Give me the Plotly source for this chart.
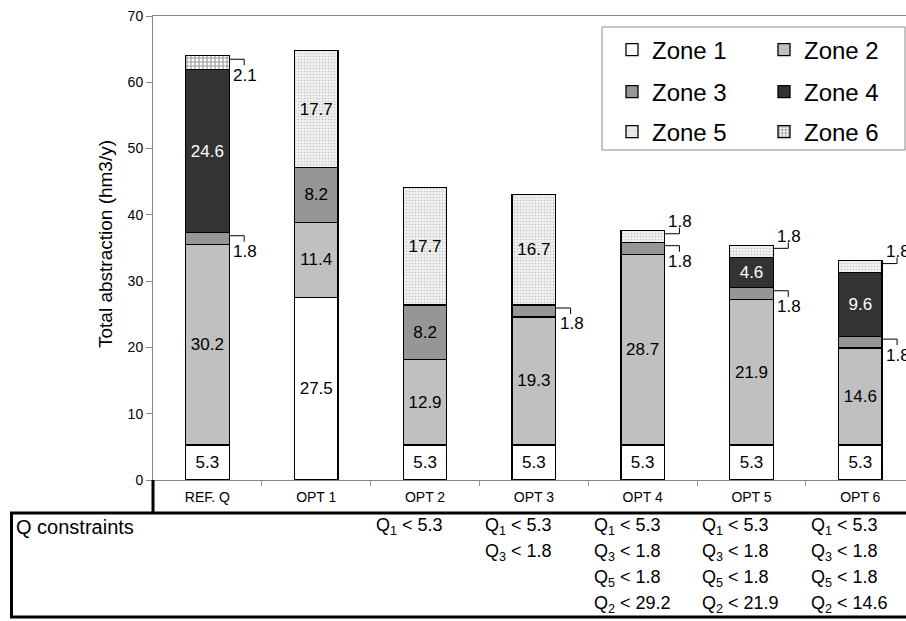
import plotly.graph_objects as go

# ---- data -----------------------------------------------------------------
categories = ["REF. Q", "OPT 1", "OPT 2", "OPT 3", "OPT 4", "OPT 5", "OPT 6"]
zone_names = ["Zone 1", "Zone 2", "Zone 3", "Zone 4", "Zone 5", "Zone 6"]
zone1 = [5.3, 27.5, 5.3, 5.3, 5.3, 5.3, 5.3]
zone2 = [30.2, 11.4, 12.9, 19.3, 28.7, 21.9, 14.6]
zone3 = [1.8, 8.2, 8.2, 1.8, 1.8, 1.8, 1.8]
zone4 = [24.6, None, None, None, None, 4.6, 9.6]
zone5 = [None, 17.7, 17.7, 16.7, 1.8, 1.8, 1.8]
zone6 = [2.1, None, None, None, None, None, None]
zones = [zone1, zone2, zone3, zone4, zone5, zone6]

constraint_label = "Q constraints"
constraints = [
    [],
    [],
    ["Q<sub>1</sub> &lt; 5.3"],
    ["Q<sub>1</sub> &lt; 5.3", "Q<sub>3</sub> &lt; 1.8"],
    ["Q<sub>1</sub> &lt; 5.3", "Q<sub>3</sub> &lt; 1.8", "Q<sub>5</sub> &lt; 1.8", "Q<sub>2</sub> &lt; 29.2"],
    ["Q<sub>1</sub> &lt; 5.3", "Q<sub>3</sub> &lt; 1.8", "Q<sub>5</sub> &lt; 1.8", "Q<sub>2</sub> &lt; 21.9"],
    ["Q<sub>1</sub> &lt; 5.3", "Q<sub>3</sub> &lt; 1.8", "Q<sub>5</sub> &lt; 1.8", "Q<sub>2</sub> &lt; 14.6"],
]

# ---- geometry / style -------------------------------------------------------
W, H = 906, 621
L, R, T, B = 153, 0, 16, 141
PW, PH = W - L - R, H - T - B
FONT = "Liberation Sans, Arial, sans-serif"
BAR_W = 0.4
SMALL = 3.0  # segments below this get an outside bracket label


def px2x(px):
    return (px - L) / PW


def px2y(py):
    return (H - B - py) / PH


fills = [
    dict(color="#ffffff"),
    dict(color="#c0c0c0"),
    dict(color="#969696"),
    dict(color="#333333"),
    dict(color="#ffffff", pattern=dict(shape=".", fgcolor="#9a9a9a", bgcolor="#f0f0f0",
                                        size=3, solidity=0.25)),
    dict(color="#ffffff", pattern=dict(shape="+", fgcolor="#333333", bgcolor="#ffffff",
                                        size=4, solidity=0.5)),
]
text_colors = ["#000", "#000", "#000", "#fff", "#000", "#000"]
legend_ids = ["legend", "legend2", "legend3", "legend4", "legend5", "legend6"]

fig = go.Figure()
for k, (name, vals) in enumerate(zip(zone_names, zones)):
    txt = [("%.1f" % v) if (v is not None and v >= SMALL) else "" for v in vals]
    fig.add_trace(go.Bar(
        name=name, x=categories, y=vals, width=BAR_W,
        marker=dict(line=dict(color="#000", width=1.3), **fills[k]),
        text=txt, textposition="inside", insidetextanchor="middle",
        textangle=0, constraintext="none",
        textfont=dict(size=17, color=text_colors[k], family=FONT),
        legend=legend_ids[k], showlegend=True, hoverinfo="skip",
    ))

shapes = []
annotations = []

# outside labels with small bracket connectors
for i, cat in enumerate(categories):
    base = 0.0
    for k, vals in enumerate(zones):
        v = vals[i]
        if v is None:
            continue
        if v < SMALL:
            yb = base + 0.75 * v
            xr = i + BAR_W / 2
            above = zone_names[k] == "Zone 5"
            leg = 6 if above else -6
            common = dict(type="line", xref="x", yref="y", xsizemode="pixel",
                          ysizemode="pixel", xanchor=xr, yanchor=yb,
                          line=dict(color="#000", width=1))
            shapes.append(dict(x0=0, x1=15, y0=0, y1=0, **common))
            shapes.append(dict(x0=15, x1=15, y0=0, y1=leg, **common))
            annotations.append(dict(
                x=xr, y=yb, xref="x", yref="y", xshift=16,
                yshift=12 if above else -16, text="%.1f" % v, showarrow=False,
                xanchor="center", yanchor="middle",
                font=dict(size=17, color="#000", family=FONT)))
        base += v

# legend frame
shapes.append(dict(type="rect", xref="paper", yref="paper",
                   x0=px2x(602), x1=px2x(905), y0=px2y(150), y1=px2y(27),
                   line=dict(color="#8a8a8a", width=1), fillcolor="rgba(0,0,0,0)",
                   layer="below"))

# constraints table
shapes += [
    dict(type="line", xref="paper", yref="paper", x0=px2x(L), x1=px2x(L),
         y0=px2y(H - B), y1=px2y(513), line=dict(color="#000", width=3)),
    dict(type="line", xref="paper", yref="paper", x0=px2x(10), x1=px2x(W + 5),
         y0=px2y(513), y1=px2y(513), line=dict(color="#000", width=3)),
    dict(type="line", xref="paper", yref="paper", x0=px2x(10), x1=px2x(W + 5),
         y0=px2y(617), y1=px2y(617), line=dict(color="#000", width=3)),
    dict(type="line", xref="paper", yref="paper", x0=px2x(11.5), x1=px2x(11.5),
         y0=px2y(513), y1=px2y(617), line=dict(color="#000", width=3)),
]
annotations.append(dict(x=px2x(14), y=px2y(527), xref="paper", yref="paper",
                        text=constraint_label, showarrow=False, xanchor="left",
                        yanchor="middle", font=dict(size=20, color="#000", family=FONT)))
row_y = [526, 552, 578, 604]
for i, rows in enumerate(constraints):
    for r, s in enumerate(rows):
        annotations.append(dict(x=i - 0.47, y=px2y(row_y[r]), xref="x", yref="paper",
                                text=s, showarrow=False, xanchor="left", yanchor="middle",
                                font=dict(size=18, color="#000", family=FONT)))

# y-axis title
annotations.append(dict(x=px2x(105), y=px2y(244), xref="paper", yref="paper",
                        text="Total abstraction (hm3/y)", textangle=-90, showarrow=False,
                        xanchor="center", yanchor="middle",
                        font=dict(size=19, color="#000", family=FONT)))


# one small legend per zone, laid out as a 3 x 2 grid inside the frame
def legend_cell(px, py):
    return dict(x=px2x(px), xanchor="left", y=px2y(py), yanchor="middle",
                font=dict(size=24, color="#000", family=FONT),
                bgcolor="rgba(0,0,0,0)", borderwidth=0, itemclick=False,
                itemdoubleclick=False, visible=True)


cols = [612, 764]
rows_px = [50, 92, 132]
legend_layout = {}
for k, lid in enumerate(legend_ids):
    legend_layout[lid] = legend_cell(cols[k % 2], rows_px[k // 2])

fig.update_layout(
    width=W, height=H,
    margin=dict(l=L, r=R, t=T, b=B, pad=0),
    barmode="stack",
    showlegend=True,
    paper_bgcolor="#fff", plot_bgcolor="#fff",
    font=dict(family=FONT, color="#000"),
    shapes=shapes, annotations=annotations,
    xaxis=dict(type="category", range=[-0.5, 6.42], showline=True,
               linecolor="#888", linewidth=1, mirror=True, ticks="outside",
               tickson="boundaries", ticklen=5, tickcolor="#999", showgrid=False,
               automargin=False, ticklabelstandoff=4,
               tickfont=dict(size=14, color="#000", family=FONT)),
    yaxis=dict(range=[0, 70], dtick=10, showline=True, linecolor="#888",
               linewidth=1, ticks="outside", ticklen=6, tickcolor="#888",
               showgrid=False, zeroline=False, automargin=False,
               tickfont=dict(size=14, color="#000", family=FONT)),
    **legend_layout,
)

fig.write_html("out.html")
